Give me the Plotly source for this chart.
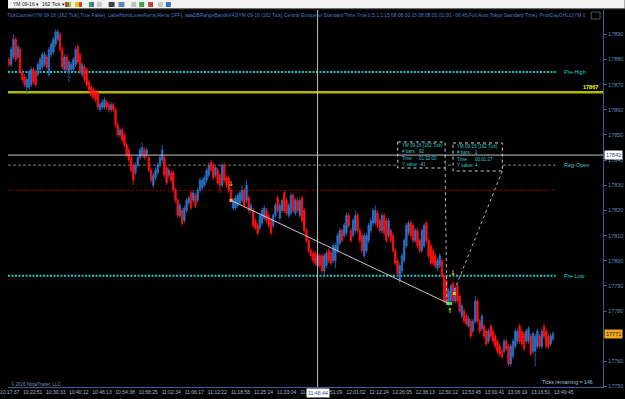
import plotly.graph_objects as go

# ---------------- data (162 tick bars, YM 09-16) ----------------
opens = [
    17880, 17878, 17881, 17888, 17881, 17884, 17875, 17873, 17869, 17869, 17870, 17876,
    17875, 17874, 17876, 17877, 17878, 17881, 17874, 17882, 17883, 17886, 17888, 17890,
    17884, 17876, 17881, 17875, 17876, 17876, 17878, 17885, 17882, 17874, 17877, 17876,
    17871, 17869, 17868, 17867, 17867, 17860, 17861, 17861, 17863, 17862, 17860, 17862,
    17860, 17854, 17850, 17852, 17850, 17846, 17844, 17841, 17838, 17835, 17838, 17841,
    17842, 17844, 17842, 17841, 17836, 17830, 17833, 17835, 17838, 17840, 17841, 17837,
    17834, 17835, 17835, 17828, 17824, 17818, 17820, 17816, 17820, 17823, 17827, 17824,
    17826, 17824, 17828, 17829, 17830, 17832, 17834, 17839, 17838, 17834, 17836, 17834,
    17830, 17838, 17833, 17833, 17828,
    17821, 17821, 17822, 17823, 17824, 17828, 17824, 17825, 17820, 17820, 17816, 17814,
    17813, 17815, 17817, 17820, 17818, 17816, 17814, 17818, 17825, 17817, 17820, 17827,
    17824, 17818,
    17819, 17826, 17819, 17824, 17818, 17825, 17820, 17812, 17808, 17804, 17803, 17803,
    17798, 17802, 17802, 17796, 17798, 17804, 17803, 17800, 17800, 17804, 17807, 17812,
    17810, 17811, 17818, 17812, 17810, 17812, 17818, 17812, 17810, 17802, 17804, 17808,
    17812, 17815, 17815, 17819, 17816, 17812, 17818, 17816, 17810, 17812, 17810, 17804,
    17800, 17792, 17796, 17800, 17806, 17811, 17815, 17814, 17808, 17812, 17808, 17804,
    17806, 17815, 17808, 17806, 17804, 17802, 17797, 17798, 17800, 17794, 17792, 17783,
    17784, 17791, 17784, 17790,
    17786, 17778, 17780, 17778, 17774, 17776, 17772, 17776, 17784, 17776, 17773, 17774,
    17772, 17768, 17774, 17772, 17770, 17768, 17766, 17764, 17764, 17768, 17766, 17759,
    17762, 17766, 17768, 17774, 17772, 17771, 17768, 17768, 17770, 17764, 17764, 17766,
    17770, 17766, 17774, 17772, 17770, 17767, 17769,
]
highs = [
    17881, 17885, 17890, 17889, 17886, 17885, 17876, 17874, 17873, 17876, 17877, 17877,
    17876, 17879, 17881, 17883, 17883, 17882, 17885, 17887, 17889, 17892, 17892, 17891,
    17885, 17882, 17882, 17880, 17879, 17881, 17885, 17886, 17883, 17879, 17878, 17877,
    17872, 17870, 17869, 17868, 17868, 17863, 17864, 17865, 17864, 17863, 17863, 17863,
    17861, 17855, 17853, 17853, 17851, 17847, 17845, 17842, 17839, 17839, 17842, 17845,
    17847, 17845, 17845, 17842, 17837, 17835, 17837, 17839, 17842, 17846, 17842, 17838,
    17837, 17836, 17836, 17829, 17825, 17823, 17821, 17822, 17825, 17826, 17828, 17828,
    17827, 17829, 17833, 17833, 17834, 17837, 17839, 17840, 17839, 17838, 17837, 17835,
    17839, 17839, 17834, 17834, 17829,
    17825, 17826, 17827, 17828, 17830, 17829, 17832, 17826, 17823, 17821, 17817, 17815,
    17819, 17821, 17822, 17821, 17819, 17817, 17819, 17823, 17826, 17823, 17825, 17828,
    17825, 17823,
    17827, 17827, 17825, 17825, 17825, 17826, 17821, 17813, 17809, 17805, 17804, 17804,
    17803, 17803, 17803, 17803, 17804, 17805, 17804, 17807, 17807, 17811, 17813, 17813,
    17815, 17819, 17819, 17813, 17817, 17820, 17819, 17813, 17811, 17811, 17811, 17815,
    17817, 17821, 17822, 17820, 17817, 17819, 17819, 17817, 17817, 17813, 17811, 17805,
    17801, 17799, 17803, 17809, 17815, 17816, 17816, 17815, 17813, 17813, 17809, 17813,
    17815, 17816, 17809, 17807, 17805, 17803, 17801, 17803, 17801, 17795, 17793, 17789,
    17791, 17792, 17790, 17791,
    17787, 17783, 17781, 17779, 17778, 17777, 17777, 17786, 17785, 17777, 17779, 17775,
    17773, 17773, 17775, 17773, 17771, 17769, 17767, 17765, 17769, 17769, 17767, 17767,
    17769, 17773, 17773, 17775, 17773, 17772, 17773, 17774, 17771, 17772, 17771, 17773,
    17771, 17773, 17775, 17773, 17771, 17771, 17772,
]
lows = [
    17877, 17877, 17880, 17879, 17880, 17874, 17871, 17869, 17866, 17868, 17869, 17870,
    17869, 17873, 17875, 17876, 17877, 17876, 17873, 17881, 17882, 17885, 17887, 17883,
    17876, 17875, 17875, 17871, 17875, 17875, 17877, 17878, 17874, 17873, 17871, 17869,
    17867, 17865, 17864, 17863, 17860, 17859, 17860, 17860, 17860, 17859, 17859, 17859,
    17853, 17849, 17849, 17847, 17845, 17841, 17839, 17835, 17830, 17834, 17837, 17840,
    17841, 17840, 17841, 17835, 17831, 17829, 17832, 17834, 17837, 17839, 17833, 17830,
    17833, 17831, 17827, 17823, 17817, 17817, 17814, 17815, 17819, 17822, 17820, 17823,
    17821, 17823, 17827, 17828, 17829, 17831, 17833, 17835, 17832, 17833, 17830, 17827,
    17829, 17831, 17829, 17827, 17823,
    17820, 17820, 17821, 17822, 17823, 17821, 17823, 17819, 17819, 17813, 17812, 17810,
    17812, 17814, 17816, 17815, 17813, 17810, 17813, 17817, 17819, 17816, 17819, 17819,
    17818, 17817,
    17818, 17819, 17818, 17819, 17817, 17815, 17811, 17807, 17803, 17801, 17799, 17798,
    17797, 17797, 17795, 17794, 17797, 17799, 17798, 17799, 17797, 17803, 17806, 17807,
    17809, 17810, 17813, 17807, 17809, 17811, 17811, 17807, 17803, 17801, 17803, 17807,
    17811, 17814, 17814, 17813, 17811, 17811, 17810, 17807, 17809, 17807, 17803, 17798,
    17794, 17791, 17795, 17799, 17805, 17810, 17809, 17807, 17807, 17805, 17803, 17803,
    17805, 17807, 17801, 17798, 17798, 17797, 17796, 17797, 17793, 17783, 17783, 17782,
    17783, 17783, 17783, 17783,
    17779, 17777, 17775, 17774, 17773, 17769, 17771, 17775, 17775, 17771, 17772, 17769,
    17766, 17767, 17769, 17767, 17765, 17763, 17762, 17761, 17763, 17764, 17758, 17758,
    17761, 17765, 17767, 17767, 17766, 17764, 17767, 17767, 17762, 17763, 17758, 17765,
    17765, 17765, 17769, 17765, 17765, 17766, 17768,
]
closes = [
    17878, 17884, 17888, 17880, 17885, 17875, 17872, 17870, 17872, 17875, 17876, 17871,
    17870, 17878, 17880, 17882, 17882, 17877, 17884, 17886, 17888, 17891, 17891, 17884,
    17877, 17881, 17876, 17879, 17878, 17880, 17884, 17879, 17875, 17878, 17872, 17870,
    17868, 17866, 17865, 17864, 17861, 17862, 17863, 17864, 17861, 17860, 17862, 17860,
    17854, 17850, 17852, 17848, 17846, 17842, 17840, 17836, 17832, 17838, 17841, 17844,
    17845, 17841, 17844, 17836, 17832, 17834, 17836, 17838, 17841, 17844, 17834, 17831,
    17836, 17832, 17828, 17824, 17818, 17822, 17815, 17821, 17824, 17825, 17821, 17827,
    17822, 17828, 17832, 17832, 17833, 17836, 17838, 17836, 17833, 17837, 17831, 17830,
    17838, 17832, 17830, 17828, 17824,
    17824, 17825, 17826, 17827, 17828, 17822, 17830, 17820, 17822, 17814, 17813, 17811,
    17818, 17820, 17821, 17816, 17814, 17811, 17818, 17822, 17820, 17822, 17824, 17820,
    17819, 17822,
    17826, 17820, 17824, 17820, 17824, 17816, 17812, 17808, 17804, 17802, 17800, 17799,
    17802, 17798, 17796, 17802, 17803, 17800, 17799, 17806, 17806, 17810, 17812, 17808,
    17814, 17818, 17814, 17808, 17816, 17818, 17812, 17808, 17804, 17810, 17810, 17814,
    17816, 17820, 17820, 17814, 17812, 17818, 17811, 17808, 17816, 17808, 17804, 17799,
    17795, 17798, 17802, 17808, 17814, 17815, 17810, 17808, 17812, 17806, 17804, 17812,
    17814, 17808, 17802, 17799, 17799, 17798, 17800, 17802, 17794, 17784, 17784, 17788,
    17790, 17784, 17789, 17784,
    17780, 17782, 17776, 17775, 17777, 17770, 17776, 17784, 17776, 17772, 17778, 17770,
    17767, 17772, 17770, 17768, 17766, 17764, 17763, 17762, 17768, 17765, 17759, 17766,
    17768, 17772, 17772, 17768, 17767, 17765, 17772, 17773, 17763, 17771, 17770, 17772,
    17766, 17772, 17770, 17766, 17766, 17770, 17771,
]
assert len(opens) == len(highs) == len(lows) == len(closes)
N = len(closes)

time_labels = [
    "10:17:37", "10:22:51", "10:30:33", "10:40:12", "10:46:13", "10:54:38", "10:58:25",
    "11:02:34", "11:06:17", "11:12:22", "11:18:58", "11:25:24", "11:33:04", "11:39:41",
    "11:51:09", "12:01:02", "12:12:24", "12:26:05", "12:38:13", "12:50:12", "12:53:45",
    "13:00:41", "13:06:19", "13:16:51", "13:49:45",
]
price_ticks = [17750, 17760, 17770, 17780, 17790, 17800, 17810, 17820, 17830, 17840,
               17850, 17860, 17870, 17880, 17890]

pre_high = 17875
prior_level = 17867
reg_open = 17838
red_level = 17828
pre_low = 17794
cursor_bar = 139
cursor_price = 17842
cursor_time = "11:46:44"
last_price = 17771

m1_start_bar, m1_start_price = 100, 17824
m1_end_bar, m1_end_price = 198, 17783
m2_end_bar, m2_end_price = 200, 17787
box_rows = ["# bars:", "Time:", "Y value:"]
m1_values = ["92", "01:32:00", "-41"]
m2_values = ["2", "00:01:27", "4"]
instrument = "YM 09-16 (162 Tick)"

header = ("TickCounter(YM 09-16 (162 Tick),True,False), LabelHorizLinesAlerts(Alerts OFF), "
          "aaaDBRangeBandsV42(YM 09-16 (162 Tick),Central European Standard Time,True,0.5,1,2,"
          "15 08:08:00,15 08:08:00,01:00,- 06:45,Full,Auto,Tokyo Standard Time), PriorDayOHLC(YM 0")

# ---------------- geometry / style ----------------
W, H = 625, 399
PR, PT, PB = 603, 10, 387
BAR_PX, X0_PX = 2.25, 1.0
Y_TOP, Y_BOT = 17899.66, 17749.82
FONT = "Liberation Sans, Arial, sans-serif"
UP, DN = "#2f70c6", "#ff1212"
AX = "#3b5f8c"


def px2x(px):
    return (px - X0_PX) / BAR_PX


def py2y(py):
    return Y_TOP - (py - PT) * (Y_TOP - Y_BOT) / (PB - PT)


def pxp(px):
    return px / PR


def pyp(py):
    return (PB - py) / (PB - PT)


fig = go.Figure()
fig.add_trace(go.Candlestick(
    x=list(range(N)), open=opens, high=highs, low=lows, close=closes,
    increasing=dict(line=dict(color=UP, width=0.8), fillcolor=UP),
    decreasing=dict(line=dict(color=DN, width=0.8), fillcolor=DN),
    whiskerwidth=0, hoverinfo="skip", showlegend=False,
))

shapes = []
ann = []
xmin, xmax = px2x(0), px2x(PR)
line_end = px2x(555)

# horizontal level lines
shapes.append(dict(type="line", xref="x", yref="y", x0=xmin, x1=xmax, y0=prior_level, y1=prior_level,
                   line=dict(color="#b5b500", width=2.5), layer="below"))
for lvl, col, w, dash in [(pre_high, "#1cc6c6", 2, "2px,1.5px"), (pre_low, "#1cc6c6", 2, "2px,1.5px"),
                          (reg_open, "#7a7a7a", 1, "3px,2px"), (red_level, "#9a0000", 1, "2px,2px")]:
    shapes.append(dict(type="line", xref="x", yref="y", x0=xmin, x1=line_end, y0=lvl, y1=lvl,
                       line=dict(color=col, width=w, dash=dash), layer="below"))

for txt, lvl, col in [("Pre-High", pre_high, "#2ccaca"), ("Reg-Open", reg_open, "#5cc0cc"),
                      ("Pre-Low", pre_low, "#2ccaca")]:
    ann.append(dict(xref="paper", yref="y", x=pxp(561), y=lvl, text=txt, showarrow=False,
                    xanchor="left", yanchor="middle", font=dict(family=FONT, size=5.5, color=col)))
ann.append(dict(xref="paper", yref="y", x=pxp(600), y=prior_level, text="<b>%d</b>" % prior_level,
                showarrow=False, xanchor="right", yanchor="bottom", yshift=0,
                font=dict(family=FONT, size=5.5, color="#ffff00")))

# measurement info boxes
box1 = (395, 142, 443, 168)
box2 = (451, 143, 501, 171)
for b in (box1, box2):
    shapes.append(dict(type="rect", xref="x", yref="y", x0=px2x(b[0]), x1=px2x(b[2]),
                       y0=py2y(b[1]), y1=py2y(b[3]), fillcolor="#000000",
                       line=dict(color="#cfcfcf", width=1, dash="dot"), layer="above"))

# measurement lines
shapes.append(dict(type="line", xref="x", yref="y", x0=m1_start_bar, y0=m1_start_price,
                   x1=m1_end_bar, y1=m1_end_price, line=dict(color="#c8c8c8", width=1)))
shapes.append(dict(type="line", xref="x", yref="y", x0=px2x(box1[2]), y0=py2y(box1[3]),
                   x1=m1_end_bar - 0.8, y1=m1_end_price, line=dict(color="#b0b0b0", width=1, dash="dot")))
shapes.append(dict(type="line", xref="x", yref="y", x0=px2x(box2[2]), y0=py2y(box2[3]),
                   x1=m2_end_bar, y1=m2_end_price, line=dict(color="#b0b0b0", width=1, dash="dot")))

# crosshair
shapes.append(dict(type="line", xref="x", yref="paper", x0=cursor_bar, x1=cursor_bar, y0=0, y1=1,
                   line=dict(color="#c4c4c4", width=1)))
shapes.append(dict(type="line", xref="x", yref="y", x0=xmin, x1=xmax, y0=cursor_price, y1=cursor_price,
                   line=dict(color="#c4c4c4", width=1)))

# box texts
BF = dict(family=FONT, size=4.5, color="#35c9c9")
for b, vals in ((box1, m1_values), (box2, m2_values)):
    ann.append(dict(xref="paper", yref="paper", x=pxp(b[0] + 2), y=pyp(b[1] + 3.4), text=instrument,
                    showarrow=False, xanchor="left", yanchor="middle", font=BF))
    for k, (lab, v) in enumerate(zip(box_rows, vals)):
        yy = pyp(b[1] + 3.4 + 6.4 * (k + 1))
        ann.append(dict(xref="paper", yref="paper", x=pxp(b[0] + 2), y=yy, text=lab, showarrow=False,
                        xanchor="left", yanchor="middle", font=BF))
        ann.append(dict(xref="paper", yref="paper", x=pxp(b[0] + 20), y=yy, text=v, showarrow=False,
                        xanchor="left", yanchor="middle", font=BF))

# markers and arrows
fig.add_trace(go.Scatter(x=[m1_start_bar], y=[m1_start_price], mode="markers",
                         marker=dict(symbol="square", size=3, color="#f0c020"), hoverinfo="skip", showlegend=False))
fig.add_trace(go.Scatter(x=[m1_end_bar - 0.4, m1_end_bar + 0.9], y=[m1_end_price, m1_end_price], mode="markers",
                         marker=dict(symbol="square", size=3, color="#44e044"), hoverinfo="skip", showlegend=False))
fig.add_trace(go.Scatter(x=[m2_end_bar + 0.6], y=[m2_end_price], mode="markers",
                         marker=dict(symbol="square", size=3, color="#f0c020"), hoverinfo="skip", showlegend=False))
for bar, price, glyph, col in [(m1_start_bar, m1_start_price + 6.5, "↓", "#f0b400"),
                               (m2_end_bar, m2_end_price + 8, "↓", "#f0a000"),
                               (m1_end_bar + 0.5, m1_end_price - 3, "↑", "#7cfc00")]:
    ann.append(dict(xref="x", yref="y", x=bar, y=price, text="<b>%s</b>" % glyph, showarrow=False,
                    xanchor="center", yanchor="middle", font=dict(family="DejaVu Sans", size=7, color=col)))

# right axis value tags
ann.append(dict(xref="paper", yref="y", x=pxp(604), y=cursor_price, text="%d" % cursor_price, showarrow=False,
                xanchor="left", yanchor="middle", bgcolor="#ffffff", borderpad=1,
                font=dict(family=FONT, size=5.5, color="#2a4a7a")))
ann.append(dict(xref="paper", yref="y", x=pxp(604), y=last_price, text="%d" % last_price, showarrow=False,
                xanchor="left", yanchor="middle", bgcolor="#f2a81c", borderpad=1,
                font=dict(family=FONT, size=5.5, color="#1a1a1a")))
# cursor time tag
ann.append(dict(xref="x", yref="paper", x=cursor_bar, y=pyp(393), text=cursor_time, showarrow=False,
                xanchor="center", yanchor="middle", bgcolor="#ffffff", borderpad=1,
                font=dict(family=FONT, size=5.2, color="#2a4a7a")))

# texts
ann.append(dict(xref="paper", yref="paper", x=pxp(-3), y=pyp(15), text=header, showarrow=False,
                xanchor="left", yanchor="middle", font=dict(family=FONT, size=4.9, color="#4a7cc4")))
ann.append(dict(xref="paper", yref="paper", x=pxp(1), y=pyp(384), text="© 2016 NinjaTrader, LLC",
                showarrow=False, xanchor="left", yanchor="middle",
                font=dict(family=FONT, size=4.5, color="#7f93aa")))
ann.append(dict(xref="paper", yref="paper", x=pxp(595), y=pyp(382), text="Ticks remaining = 146",
                showarrow=False, xanchor="right", yanchor="middle",
                font=dict(family=FONT, size=5.2, color="#a8bcd6")))

# toolbar
shapes.append(dict(type="rect", xref="paper", yref="paper", x0=pxp(0), x1=pxp(W), y0=pyp(8.5), y1=pyp(-1),
                   fillcolor="#f2f2f2", line=dict(width=0), layer="above"))
shapes.append(dict(type="line", xref="paper", yref="paper", x0=pxp(0), x1=pxp(W), y0=pyp(8.7), y1=pyp(8.7),
                   line=dict(color="#6a6a6a", width=1)))
ann.append(dict(xref="paper", yref="paper", x=pxp(3), y=pyp(4.3), text="YM 09-16 ▾", showarrow=False,
                xanchor="left", yanchor="middle", font=dict(family=FONT, size=5, color="#202020")))
ann.append(dict(xref="paper", yref="paper", x=pxp(32), y=pyp(4.3), text="162 Tick ▾", showarrow=False,
                xanchor="left", yanchor="middle", font=dict(family=FONT, size=5, color="#202020")))
for x0, x1, col in [(58, 60, "#d02020"), (60, 62, "#20a020"), (62, 64, "#e0b020"),
                    (68, 72, "#e0c020"), (72, 75, "#d04020"), (82, 85, "#30a060"), (85, 87, "#3060c0"),
                    (90, 95, "#c8c8c8"), (102, 108, "#404040"), (112, 118, "#6080b0"), (125, 130, "#c0c0c0"),
                    (133, 138, "#40a040"), (142, 147, "#c04040"), (152, 157, "#c8c8c8"), (160, 165, "#4070c0")]:
    shapes.append(dict(type="rect", xref="paper", yref="paper", x0=pxp(x0), x1=pxp(x1), y0=pyp(7), y1=pyp(2),
                       fillcolor=col, line=dict(width=0), layer="above"))
shapes.append(dict(type="rect", xref="paper", yref="paper", x0=pxp(591), x1=pxp(600), y0=pyp(19), y1=pyp(12),
                   fillcolor="rgba(0,0,0,0)", line=dict(color="#8090a8", width=0.6), layer="above"))

tick_px = [1.6 + 23.4 * k for k in range(len(time_labels))]
# the last-price tag covers the 17770 label, as in the reference
y_ticktext = ["" if v == 17770 else str(v) for v in price_ticks]

fig.update_layout(
    width=W, height=H, autosize=False,
    margin=dict(l=0, r=W - PR, t=PT, b=H - PB, pad=0),
    paper_bgcolor="#000000", plot_bgcolor="#000000",
    showlegend=False, boxgap=0.08,
    shapes=shapes, annotations=ann,
    xaxis=dict(range=[xmin, xmax], showgrid=False, zeroline=False, showline=True, linecolor=AX, linewidth=1,
               tickvals=[px2x(p) for p in tick_px], ticktext=time_labels, ticks="", tickangle=0,
               tickfont=dict(family=FONT, size=5, color="#a6b6ca"), ticklabeloverflow="allow",
               rangeslider=dict(visible=False), fixedrange=True),
    yaxis=dict(range=[Y_BOT, Y_TOP], side="right", showgrid=False, zeroline=False, showline=True,
               linecolor=AX, linewidth=1, tickvals=price_ticks, ticktext=y_ticktext,
               ticks="outside", ticklen=3, tickcolor=AX, tickwidth=1,
               tickfont=dict(family=FONT, size=5.5, color="#5f88bb"), ticklabeloverflow="allow",
               fixedrange=True),
)

fig.write_html("out.html", config={"displayModeBar": False})
with open("out.html", "r", encoding="utf-8") as f:
    html = f.read()
html = html.replace("<head>", "<head><style>html,body{margin:0;padding:0;background:#000;}</style>", 1)
with open("out.html", "w", encoding="utf-8") as f:
    f.write(html)
